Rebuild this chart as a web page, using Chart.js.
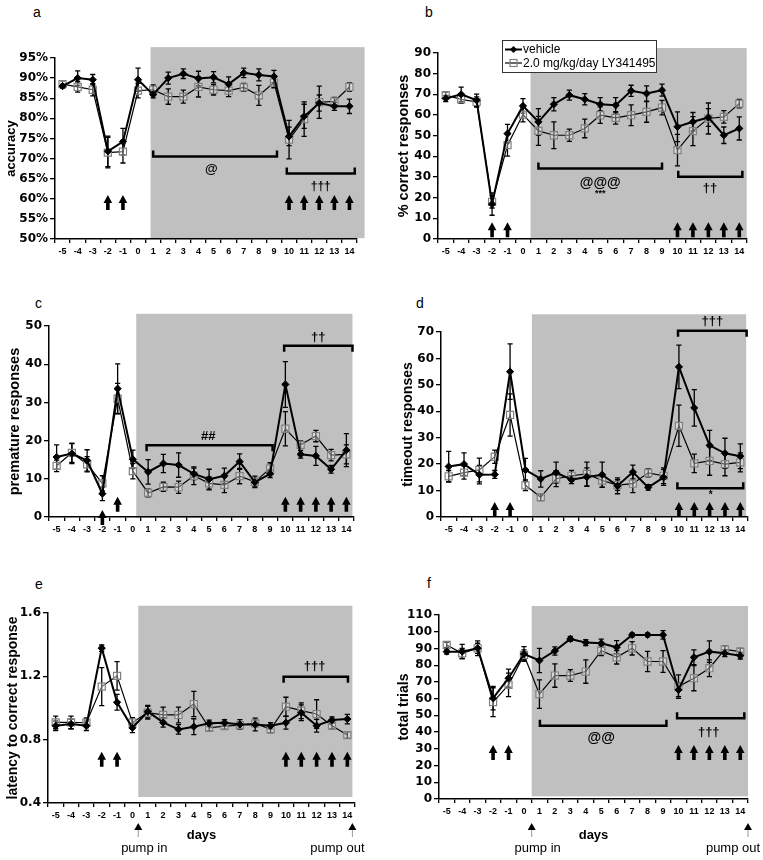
<!DOCTYPE html>
<html>
<head>
<meta charset="utf-8">
<script src="https://cdn.jsdelivr.net/npm/chart.js@4.4.1/dist/chart.umd.min.js"></script>
<style>
  html, body { margin: 0; padding: 0; background: #fff; width: 763px; height: 860px; overflow: hidden; position: relative; }
  canvas { position: absolute; }
  .lbl { position: absolute; font: 14px "Liberation Sans", Arial, sans-serif; line-height: 14px; color: #000; }
</style>
</head>
<body>
<div class="lbl" style="left:33px;top:5px">a</div>
<div class="lbl" style="left:425px;top:5px">b</div>
<div class="lbl" style="left:35px;top:296px">c</div>
<div class="lbl" style="left:416px;top:296px">d</div>
<div class="lbl" style="left:35px;top:577px">e</div>
<div class="lbl" style="left:427px;top:576px">f</div>

<canvas id="chartA"></canvas>
<canvas id="chartB"></canvas>
<canvas id="chartC"></canvas>
<canvas id="chartD"></canvas>
<canvas id="chartE"></canvas>
<canvas id="chartF"></canvas>

<script>
const FONT = '"Liberation Sans", Arial, sans-serif';
const TICK_FONT = '"DejaVu Sans", "Liberation Sans", sans-serif';

const days = ['-5', '-4', '-3', '-2', '-1', '0', '1', '2', '3', '4', '5', '6', '7', '8', '9', '10', '11', '12', '13', '14'];
const seriesNames = ['vehicle', '2.0 mg/kg/day LY341495'];

// a - accuracy (%)
const accTicks = [50, 55, 60, 65, 70, 75, 80, 85, 90, 95];
const accVehicle = [88.0, 90.0, 89.6, 71.8, 74.2, 89.6, 85.9, 90.0, 91.1, 89.9, 90.2, 88.5, 91.3, 90.8, 90.4, 75.5, 80.5, 83.8, 83.0, 83.0];
const accVehicleErr = [0.5, 1.8, 1.3, 3.8, 3.3, 2.9, 0.8, 1.5, 1.2, 1.8, 1.4, 1.8, 1.2, 1.5, 1.5, 2.3, 3.0, 2.0, 1.0, 1.8];
const accLY = [88.5, 87.8, 87.1, 71.5, 71.7, 86.9, 87.1, 85.4, 85.4, 87.8, 87.1, 86.9, 87.7, 85.7, 88.9, 74.7, 79.8, 84.0, 84.2, 87.8];
const accLYErr = [0.8, 1.3, 1.5, 3.8, 2.8, 1.8, 1.2, 1.9, 1.6, 2.5, 1.3, 1.5, 1.0, 2.5, 1.3, 4.8, 4.3, 4.0, 1.0, 1.0];

// b - % correct responses
const corrTicks = [0, 10, 20, 30, 40, 50, 60, 70, 80, 90];
const corrVehicle = [68.0, 70.0, 67.1, 16.9, 51.0, 64.4, 56.7, 65.2, 69.6, 67.6, 65.2, 64.7, 71.7, 70.4, 72.0, 54.3, 56.7, 58.8, 50.2, 53.5];
const corrVehicleErr = [1.5, 3.5, 3.0, 5.4, 4.5, 3.5, 6.4, 3.2, 2.4, 2.7, 3.2, 3.7, 2.7, 3.7, 2.9, 7.2, 4.5, 4.3, 4.0, 5.6];
const corrLY = [69.6, 67.6, 66.3, 18.0, 45.4, 60.2, 52.3, 50.2, 50.2, 53.5, 59.9, 58.6, 59.9, 61.5, 63.6, 43.0, 52.2, 58.3, 59.1, 65.5];
const corrLYErr = [1.5, 2.0, 2.5, 3.0, 5.3, 3.5, 7.0, 6.5, 3.0, 4.5, 4.0, 3.0, 5.0, 5.0, 3.5, 7.6, 7.0, 7.5, 3.0, 2.0];

// c - premature responses
const premTicks = [0, 10, 20, 30, 40, 50];
const premVehicle = [15.7, 16.6, 14.8, 6.1, 33.6, 15.1, 11.8, 14.0, 13.6, 11.3, 9.9, 10.8, 14.5, 9.1, 11.3, 34.7, 16.4, 16.0, 12.5, 17.5];
const premVehicleErr = [3.2, 2.6, 2.8, 1.8, 6.5, 2.4, 3.2, 2.4, 3.2, 1.5, 2.6, 2.0, 2.0, 1.0, 1.0, 6.0, 1.0, 2.5, 1.0, 4.3];
const premLY = [13.4, 16.8, 13.8, 8.8, 31.0, 12.0, 6.3, 7.9, 7.8, 10.8, 8.8, 8.4, 10.7, 9.2, 12.7, 23.1, 18.9, 21.2, 16.2, 16.4];
const premLYErr = [1.5, 2.5, 2.0, 2.0, 4.0, 2.0, 1.0, 1.2, 1.6, 2.3, 1.7, 2.0, 2.0, 1.5, 1.5, 4.5, 1.0, 1.5, 1.5, 2.5];

// d - timeout responses
const toTicks = [0, 10, 20, 30, 40, 50, 60, 70];
const toVehicle = [19.1, 20.0, 16.0, 16.1, 55.0, 17.8, 14.4, 16.8, 14.1, 15.1, 16.0, 11.8, 17.0, 11.2, 15.0, 56.8, 41.3, 27.1, 24.1, 23.0];
const toVehicleErr = [5.7, 4.3, 3.5, 1.5, 10.5, 4.4, 3.1, 4.0, 1.5, 3.5, 4.8, 3.0, 2.6, 1.0, 3.0, 8.2, 6.9, 5.7, 5.7, 4.7];
const toLY = [15.4, 16.8, 17.8, 22.8, 38.6, 12.0, 7.5, 14.5, 15.6, 16.3, 13.8, 12.1, 12.6, 16.7, 15.6, 34.5, 20.3, 21.2, 20.0, 20.7];
const toLYErr = [2.2, 2.5, 4.5, 2.5, 8.0, 2.0, 1.3, 3.0, 2.0, 4.5, 2.5, 2.0, 3.4, 1.5, 3.0, 7.8, 3.5, 5.4, 4.4, 3.6];

// e - latency to correct response
const latTicks = [0.4, 0.8, 1.2, 1.6];
const latVehicle = [0.888, 0.899, 0.888, 1.378, 1.036, 0.875, 0.977, 0.909, 0.865, 0.882, 0.903, 0.907, 0.896, 0.896, 0.888, 0.907, 0.970, 0.888, 0.924, 0.930];
const latVehicleErr = [0.03, 0.03, 0.03, 0.02, 0.05, 0.03, 0.04, 0.03, 0.03, 0.05, 0.02, 0.02, 0.03, 0.04, 0.02, 0.04, 0.05, 0.04, 0.02, 0.03];
const latLY = [0.909, 0.909, 0.907, 1.135, 1.203, 0.909, 0.970, 0.956, 0.956, 1.025, 0.875, 0.886, 0.892, 0.903, 0.865, 1.008, 0.983, 0.962, 0.888, 0.829];
const latLYErr = [0.04, 0.04, 0.03, 0.12, 0.09, 0.03, 0.04, 0.05, 0.05, 0.08, 0.02, 0.02, 0.02, 0.02, 0.02, 0.06, 0.05, 0.09, 0.02, 0.02];

// f - total trials
const trialTicks = [0, 10, 20, 30, 40, 50, 60, 70, 80, 90, 100, 110];
const trialVehicle = [88.1, 88.1, 90.1, 60.3, 72.2, 86.7, 82.8, 88.5, 95.7, 93.5, 93.1, 90.7, 98.1, 98.1, 98.1, 65.2, 84.7, 88.1, 87.1, 85.7];
const trialVehicleErr = [1.5, 4.3, 4.4, 7.0, 5.4, 4.4, 7.3, 2.5, 1.5, 1.8, 2.5, 4.0, 1.0, 1.0, 2.5, 4.0, 4.4, 6.4, 2.0, 2.0];
const trialLY = [92.1, 87.1, 90.1, 57.9, 68.2, 86.1, 62.7, 73.8, 73.8, 76.2, 88.7, 84.7, 90.1, 82.2, 82.2, 67.2, 72.2, 78.2, 89.5, 88.1];
const trialLYErr = [1.5, 3.0, 3.0, 8.6, 7.0, 3.0, 8.5, 7.0, 3.5, 7.0, 3.0, 4.0, 4.0, 6.0, 6.5, 7.0, 7.5, 5.0, 2.0, 2.0];

const dosingDays = [-2, -1, 10, 11, 12, 13, 14];

// converts a day number / value into canvas pixels through the chart scales
function coords(chart) {
  const xs = chart.scales.x, ys = chart.scales.y;
  const i0 = days.indexOf('0');
  const step = xs.getPixelForValue(1) - xs.getPixelForValue(0);
  return {
    xp: d => xs.getPixelForValue(i0) + d * step,
    yp: v => ys.getPixelForValue(v)
  };
}

const panelExtras = {
  id: 'panelExtras',
  beforeDraw(chart, args, o) {
    if (!o.shade) return;
    const { xp, yp } = coords(chart);
    const s = o.shade, ctx = chart.ctx;
    ctx.save();
    ctx.fillStyle = '#c0c0c0';
    ctx.fillRect(xp(s.x0), yp(s.y1), xp(s.x1) - xp(s.x0), yp(s.y0) - yp(s.y1));
    ctx.restore();
  },
  beforeDatasetsDraw(chart) {
    const ctx = chart.ctx, ys = chart.scales.y;
    ctx.save();
    ctx.strokeStyle = '#000';
    ctx.lineWidth = 1.3;
    chart.data.datasets.forEach((ds, i) => {
      chart.getDatasetMeta(i).data.forEach((pt, j) => {
        const v = ds.data[j], e = ds.errors[j];
        const y0 = ys.getPixelForValue(v - e), y1 = ys.getPixelForValue(v + e);
        ctx.beginPath();
        ctx.moveTo(pt.x, y0); ctx.lineTo(pt.x, y1);
        ctx.moveTo(pt.x - 2.6, y0); ctx.lineTo(pt.x + 2.6, y0);
        ctx.moveTo(pt.x - 2.6, y1); ctx.lineTo(pt.x + 2.6, y1);
        ctx.stroke();
      });
    });
    ctx.restore();
  },
  afterDraw(chart, args, o) {
    const { xp, yp } = coords(chart);
    const ctx = chart.ctx;
    ctx.save();
    ctx.fillStyle = '#000';
    ctx.strokeStyle = '#000';

    (o.brackets || []).forEach(b => {
      const x0 = xp(b.x0), x1 = xp(b.x1), y = yp(b.y), t = -6 * b.dir;
      ctx.lineWidth = 2.5;
      ctx.lineCap = 'butt';
      ctx.lineJoin = 'miter';
      ctx.beginPath();
      ctx.moveTo(x0, y + t); ctx.lineTo(x0, y); ctx.lineTo(x1, y); ctx.lineTo(x1, y + t);
      ctx.stroke();
    });

    (o.marks || []).forEach(m => {
      ctx.font = 'bold ' + m.size + 'px ' + FONT;
      ctx.textAlign = 'center';
      ctx.textBaseline = 'middle';
      ctx.fillText(m.t, xp(m.x), yp(m.y));
    });

    (o.arrows || []).forEach(g => g.days.forEach(d => {
      const x = xp(d), yb = yp(g.base);
      ctx.beginPath();
      ctx.moveTo(x, yb - 15);
      ctx.lineTo(x + 4.3, yb - 7);
      ctx.lineTo(x + 1.8, yb - 7);
      ctx.lineTo(x + 1.8, yb);
      ctx.lineTo(x - 1.8, yb);
      ctx.lineTo(x - 1.8, yb - 7);
      ctx.lineTo(x - 4.3, yb - 7);
      ctx.closePath();
      ctx.fill();
    }));

    if (o.pump) {
      const xb = chart.scales.x.bottom;
      [[o.shade.x0, 'pump in', 6], [o.shade.x1, 'pump out', -15]].forEach(([d, label, dx]) => {
        const x = xp(d), tip = xb - 24;
        ctx.fillStyle = '#000';
        ctx.beginPath();
        ctx.moveTo(x, tip); ctx.lineTo(x + 4, tip + 7); ctx.lineTo(x - 4, tip + 7);
        ctx.closePath();
        ctx.fill();
        ctx.strokeStyle = '#999';
        ctx.lineWidth = 1;
        ctx.beginPath();
        ctx.moveTo(x, tip + 7); ctx.lineTo(x, tip + 14);
        ctx.stroke();
        ctx.font = '13px ' + FONT;
        ctx.textAlign = 'center';
        ctx.textBaseline = 'middle';
        ctx.fillText(label, x + dx, xb + 1);
      });
    }

    if (o.legend) {
      const L = o.legend;
      const x = chart.chartArea.left + L.x, y = chart.chartArea.top + L.y;
      ctx.fillStyle = '#fff';
      ctx.fillRect(x, y, L.w, L.h);
      ctx.strokeStyle = '#333';
      ctx.lineWidth = 1;
      ctx.strokeRect(x + 0.5, y + 0.5, L.w, L.h);
      chart.data.datasets.forEach((ds, i) => {
        const cy = y + 9.5 + i * 13.5;
        ctx.strokeStyle = '#000';
        ctx.lineWidth = ds.borderWidth;
        ctx.beginPath();
        ctx.moveTo(x + 3, cy); ctx.lineTo(x + 20, cy);
        ctx.stroke();
        const mx = x + 11.5;
        if (ds.pointStyle === 'rectRot') {
          ctx.fillStyle = '#000';
          ctx.beginPath();
          ctx.moveTo(mx - 3.6, cy); ctx.lineTo(mx, cy - 3.6); ctx.lineTo(mx + 3.6, cy); ctx.lineTo(mx, cy + 3.6);
          ctx.closePath();
          ctx.fill();
        } else {
          ctx.strokeStyle = ds.pointBorderColor;
          ctx.lineWidth = ds.pointBorderWidth;
          ctx.strokeRect(mx - 3.5, cy - 3.5, 7, 7);
        }
        ctx.fillStyle = '#000';
        ctx.font = '12px ' + FONT;
        ctx.textAlign = 'left';
        ctx.textBaseline = 'middle';
        ctx.fillText(ds.label, x + 21, cy + 0.5);
      });
    }
    ctx.restore();
  }
};

function vehicleSet(values, errors) {
  return {
    label: seriesNames[0], data: values, errors,
    borderColor: '#000', borderWidth: 2,
    pointStyle: 'rectRot', pointRadius: 3.6,
    pointBackgroundColor: '#000', pointBorderColor: '#000', pointBorderWidth: 1,
    tension: 0, clip: false
  };
}

function drugSet(values, errors) {
  return {
    label: seriesNames[1], data: values, errors,
    borderColor: '#000', borderWidth: 1.2,
    pointStyle: 'rect', pointRadius: 5,
    pointBackgroundColor: 'rgba(255,255,255,0.35)', pointBorderColor: '#808080', pointBorderWidth: 1.2,
    tension: 0, clip: false
  };
}

function makePanel(id, frame, p) {
  const cv = document.getElementById(id);
  const w = frame.yW + frame.W + frame.padR;
  const h = frame.padT + frame.H + frame.xH + frame.padB;
  cv.width = w; cv.height = h;
  cv.style.width = w + 'px'; cv.style.height = h + 'px';
  cv.style.left = (frame.L - frame.yW) + 'px';
  cv.style.top = (frame.T - frame.padT) + 'px';

  const ticks = p.ticks;
  new Chart(cv, {
    type: 'line',
    data: {
      labels: days,
      datasets: [vehicleSet(p.vehicle, p.vehicleErr), drugSet(p.drug, p.drugErr)]
    },
    options: {
      responsive: false,
      animation: false,
      events: [],
      layout: { padding: { left: 0, top: frame.padT, right: frame.padR, bottom: frame.padB } },
      plugins: {
        legend: { display: false },
        tooltip: { enabled: false },
        panelExtras: p.extras
      },
      scales: {
        x: {
          type: 'category',
          offset: true,
          grid: { display: true, offset: true, drawOnChartArea: false, drawTicks: true, tickLength: 4, color: '#000', lineWidth: 1.3 },
          border: { display: true, color: '#000', width: 1.5 },
          ticks: { autoSkip: false, maxRotation: 0, minRotation: 0, color: '#000', padding: 3,
                   font: { family: FONT, size: 9, weight: 'bold' } },
          title: { display: !!p.xTitle, text: p.xTitle || '', color: '#000', padding: { top: 0, bottom: 4 },
                   font: { family: FONT, size: 13, weight: 'bold' } },
          afterFit: s => { s.height = frame.xH; }
        },
        y: {
          min: ticks[0],
          max: ticks[ticks.length - 1],
          ticks: { stepSize: ticks[1] - ticks[0], autoSkip: false, color: '#000', padding: 2,
                   font: { family: TICK_FONT, size: 12, weight: 'bold' },
                   callback: p.fmt },
          grid: { drawOnChartArea: false, drawTicks: true, tickLength: 5, color: '#000', lineWidth: 1.3 },
          border: { display: true, color: '#000', width: 1.5 },
          title: { display: true, text: p.yTitle, color: '#000', padding: { top: 4, bottom: 4 },
                   font: { family: FONT, size: p.yTitleSize, weight: 'bold' } },
          afterFit: s => { s.width = frame.yW; }
        }
      }
    },
    plugins: [panelExtras]
  });
}

makePanel('chartA', { L: 55, T: 58, W: 302, H: 181, yW: 55, padT: 40, padR: 14, xH: 26, padB: 0 }, {
  ticks: accTicks, vehicle: accVehicle, vehicleErr: accVehicleErr, drug: accLY, drugErr: accLYErr,
  yTitle: 'accuracy', yTitleSize: 13, fmt: v => v + '%',
  extras: {
    shade: { x0: 0.83, x1: 15.0, y0: 50.2, y1: 97.7 },
    brackets: [{ x0: 1, x1: 9.2, y: 70.5, dir: 1 }, { x0: 9.85, x1: 14.35, y: 66.3, dir: 1 }],
    marks: [{ t: '@', x: 4.85, y: 67.3, size: 13 }, { t: '†††', x: 12.1, y: 63.0, size: 12 }],
    arrows: [{ days: dosingDays, base: 57.2 }]
  }
});

makePanel('chartB', { L: 438, T: 53, W: 309, H: 186, yW: 47, padT: 40, padR: 10, xH: 26, padB: 0 }, {
  ticks: corrTicks, vehicle: corrVehicle, vehicleErr: corrVehicleErr, drug: corrLY, drugErr: corrLYErr,
  yTitle: '% correct responses', yTitleSize: 14.5, fmt: v => v,
  extras: {
    shade: { x0: 0.49, x1: 14.48, y0: 0.5, y1: 92.4 },
    brackets: [{ x0: 1, x1: 9.0, y: 34.1, dir: 1 }, { x0: 10.05, x1: 14.2, y: 30.1, dir: 1 }],
    marks: [{ t: '@@@', x: 5.0, y: 26.9, size: 14 }, { t: '***', x: 5.0, y: 22.1, size: 9 }, { t: '††', x: 12.1, y: 24.5, size: 13 }],
    arrows: [{ days: dosingDays, base: 0.8 }],
    legend: { x: 64, y: -13, w: 154, h: 32 }
  }
});

makePanel('chartC', { L: 49, T: 326, W: 305, H: 191, yW: 47, padT: 40, padR: 12, xH: 26, padB: 0 }, {
  ticks: premTicks, vehicle: premVehicle, vehicleErr: premVehicleErr, drug: premLY, drugErr: premLYErr,
  yTitle: 'premature responses', yTitleSize: 14.5, fmt: v => v,
  extras: {
    shade: { x0: 0.22, x1: 14.4, y0: -0.2, y1: 53.2 },
    brackets: [{ x0: 0.9, x1: 9.16, y: 18.8, dir: -1 }, { x0: 9.92, x1: 14.4, y: 44.8, dir: -1 }],
    marks: [{ t: '##', x: 4.94, y: 21.0, size: 13 }, { t: '††', x: 12.15, y: 47.0, size: 13 }],
    arrows: [{ days: [-2], base: -2.1 }, { days: [-1, 10, 11, 12, 13, 14], base: 1.4 }]
  }
});

makePanel('chartD', { L: 441, T: 332, W: 307, H: 185, yW: 45, padT: 45, padR: 10, xH: 26, padB: 0 }, {
  ticks: toTicks, vehicle: toVehicle, vehicleErr: toVehicleErr, drug: toLY, drugErr: toLYErr,
  yTitle: 'timeout responses', yTitleSize: 14, fmt: v => v,
  extras: {
    shade: { x0: 0.42, x1: 14.38, y0: 0, y1: 76.7 },
    brackets: [{ x0: 9.94, x1: 14.41, y: 70.5, dir: -1 }, { x0: 9.9, x1: 14.19, y: 10.9, dir: 1 }],
    marks: [{ t: '†††', x: 12.18, y: 73.9, size: 13 }, { t: '*', x: 12.07, y: 8.3, size: 10 }],
    arrows: [{ days: dosingDays, base: 0 }]
  }
});

makePanel('chartE', { L: 48, T: 613, W: 307, H: 190, yW: 47, padT: 30, padR: 12, xH: 44, padB: 22 }, {
  ticks: latTicks, vehicle: latVehicle, vehicleErr: latVehicleErr, drug: latLY, drugErr: latLYErr,
  yTitle: 'latency to correct response', yTitleSize: 14, fmt: v => v.toFixed(1), xTitle: 'days',
  extras: {
    shade: { x0: 0.38, x1: 14.33, y0: 0.438, y1: 1.646 },
    brackets: [{ x0: 9.85, x1: 14.04, y: 1.198, dir: -1 }],
    marks: [{ t: '†††', x: 11.87, y: 1.26, size: 13 }],
    arrows: [{ days: dosingDays, base: 0.629 }],
    pump: true
  }
});

makePanel('chartF', { L: 439, T: 615, W: 309, H: 184, yW: 47, padT: 30, padR: 16, xH: 48, padB: 22 }, {
  ticks: trialTicks, vehicle: trialVehicle, vehicleErr: trialVehicleErr, drug: trialLY, drugErr: trialLYErr,
  yTitle: 'total trials', yTitleSize: 14, fmt: v => v, xTitle: 'days',
  extras: {
    shade: { x0: 0.5, x1: 14.5, y0: 1.6, y1: 115.4 },
    brackets: [{ x0: 1.03, x1: 9.22, y: 43.8, dir: 1 }, { x0: 9.91, x1: 14.26, y: 48.2, dir: 1 }],
    marks: [{ t: '@@', x: 5.0, y: 36.3, size: 14 }, { t: '†††', x: 11.96, y: 39.6, size: 13 }],
    arrows: [{ days: dosingDays, base: 23.3 }],
    pump: true
  }
});
</script>
</body>
</html>
